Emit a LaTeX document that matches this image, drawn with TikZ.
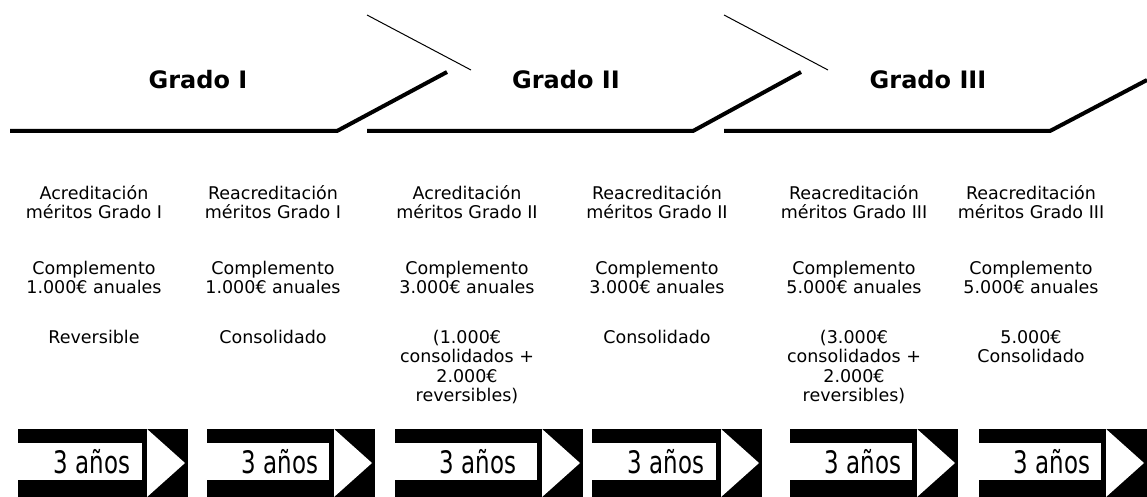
\documentclass[tikz,border=0pt]{standalone}
\usepackage{fontspec}
\setmainfont{DejaVu Sans}
\usepackage{graphicx}

\begin{document}
\begin{tikzpicture}[x=1pt,y=-1pt,
    grado/.style={font=\fontsize{24}{24}\selectfont\bfseries,anchor=base,inner sep=0pt},
    txt/.style={font=\fontsize{17.5}{19.5}\selectfont,align=center,anchor=north,inner sep=0pt},
    anios/.style={font=\fontsize{31}{31}\selectfont,inner sep=0pt},
    banner/.style={line width=4pt},
    tip/.style={line width=1pt}]
  \useasboundingbox (0,0) rectangle (1147,497);
  % cabecera de grados
  \draw[banner] (10,131) -- (337,131) -- (447,72);
  \draw[tip] (367,15) -- (471,70);
  \draw[banner] (367,131) -- (693,131) -- (801,72);
  \draw[tip] (724,15) -- (828,70);
  \draw[banner] (724,131) -- (1050,131) -- (1147,80);
  \node[grado] (g1) at (198,89) {Grado I};
  \node[grado] (g2) at (566,89) {Grado II};
  \node[grado] (g3) at (928,89) {Grado III};
  % columnas
  \foreach \x/\a/\b/\c [count=\i] in {
      94/{Acreditación\\méritos Grado I}/{1.000€}/{Reversible},
      273/{Reacreditación\\méritos Grado I}/{1.000€}/{Consolidado},
      467/{Acreditación\\méritos Grado II}/{3.000€}/{(1.000€\\consolidados +\\2.000€\\reversibles)},
      657/{Reacreditación\\méritos Grado II}/{3.000€}/{Consolidado},
      854/{Reacreditación\\méritos Grado III}/{5.000€}/{(3.000€\\consolidados +\\2.000€\\reversibles)},
      1031/{Reacreditación\\méritos Grado III}/{5.000€}/{5.000€\\Consolidado}}{
    \node[txt] (tit\i) at (\x,185) {\a};
    \node[txt] (cmp\i) at (\x,261) {Complemento\\\b{} anuales};
    \node[txt] (obs\i) at (\x,330) {\c};
  }
  % flechas de 3 años
  \foreach \x/\w [count=\i] in {18/170,207/168,395/188,592/170,790/168,979/168}{
    \fill (\x,429) rectangle (\x+\w,497);
    \fill[white] (\x,443) rectangle (\x+\w-46,480);
    \fill[white] (\x+\w-41,429) -- (\x+\w-3,463) -- (\x+\w-41,497) -- cycle;
    \node[anios] (yr\i) at (\x+\w/2-11,462) {\scalebox{0.74}[1]{3 años}};
  }
\end{tikzpicture}
\end{document}
